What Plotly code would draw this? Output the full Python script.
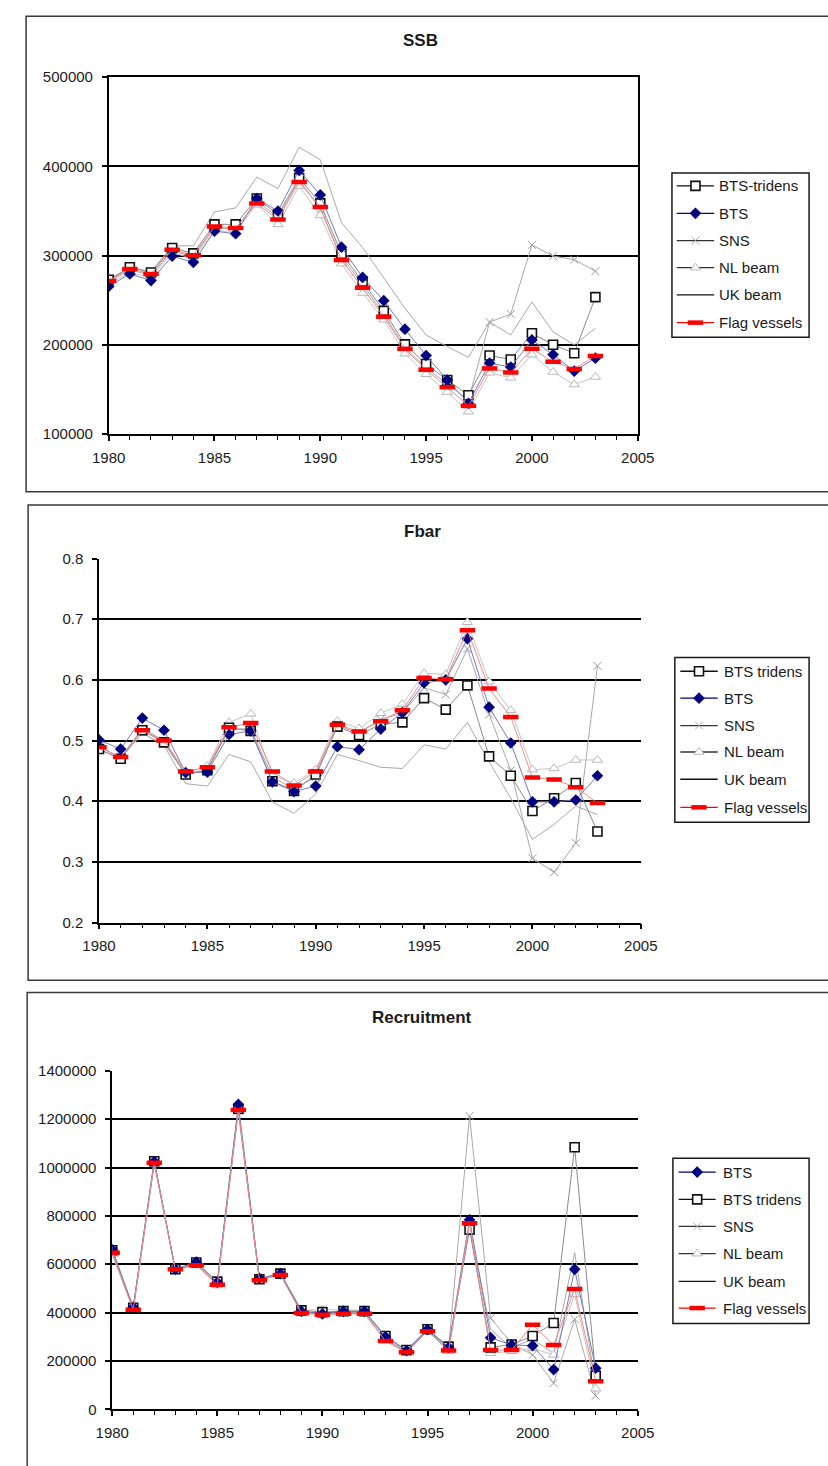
import plotly.graph_objects as go

W, H = 828, 1466
FONT = "Liberation Sans, Arial, sans-serif"

years = list(range(1980, 2004))

# ---------------- SSB ----------------
ssb_tridens = [273000, 287000, 281000, 308500, 302500, 335000, 335000, 364000, 346000, 387000, 358500, 302000,
               271000, 238000, 200500, 178500, 160500, 143500, 188000, 183500, 213000, 200000, 190500, 253500]
ssb_bts = [265500, 279500, 272000, 299500, 292500, 327500, 324500, 364000, 350000, 395500, 368000, 309500,
           275500, 249500, 217500, 188000, 160500, 134500, 179500, 175000, 205500, 189000, 170500, 185000]
ssb_sns = [270000, 284000, 278000, 305000, 299000, 331000, 330000, 361000, 343000, 385000, 352000, 298000,
           268000, 234000, 197000, 174000, 156000, 138000, 225500, 234500, 312000, 299500, 295500, 282500]
ssb_nl = [268000, 281000, 275500, 303000, 297000, 328000, 327000, 357000, 335000, 378000, 345000, 291000,
          258000, 228000, 190000, 167000, 147000, 125000, 168500, 163000, 189000, 169500, 155500, 164000]
ssb_uk = [272000, 287000, 282000, 311000, 311000, 349000, 353500, 388000, 375000, 421500, 407500, 337000,
          309000, 275000, 241000, 211000, 198000, 186000, 225500, 211000, 248000, 214500, 200000, 218500]
ssb_flag = [271500, 285000, 279500, 306500, 300500, 332500, 331000, 358500, 340500, 382500, 354500, 295000,
            264000, 231500, 195500, 172000, 152500, 131500, 173500, 169000, 195500, 181000, 173000, 187500]

# ---------------- Fbar ----------------
f_tridens = [0.486, 0.470, 0.517, 0.497, 0.444, 0.451, 0.521, 0.516, 0.433, 0.417, 0.444, 0.523,
             0.509, 0.527, 0.530, 0.570, 0.551, 0.591, 0.474, 0.442, 0.384, 0.405, 0.430, 0.350]
f_bts = [0.501, 0.486, 0.537, 0.517, 0.447, 0.448, 0.510, 0.516, 0.432, 0.416, 0.425, 0.490,
         0.485, 0.519, 0.546, 0.595, 0.600, 0.668, 0.555, 0.496, 0.399, 0.399, 0.402, 0.442]
f_sns = [0.490, 0.472, 0.520, 0.500, 0.445, 0.452, 0.518, 0.520, 0.440, 0.420, 0.440, 0.525,
         0.512, 0.535, 0.545, 0.587, 0.576, 0.651, 0.543, 0.451, 0.306, 0.283, 0.331, 0.623]
f_nl = [0.485, 0.470, 0.512, 0.495, 0.445, 0.458, 0.530, 0.544, 0.442, 0.430, 0.452, 0.532,
        0.520, 0.545, 0.560, 0.611, 0.609, 0.695, 0.597, 0.550, 0.452, 0.454, 0.468, 0.468]
f_uk = [0.490, 0.472, 0.512, 0.492, 0.429, 0.425, 0.477, 0.465, 0.399, 0.380, 0.412, 0.477,
        0.467, 0.456, 0.454, 0.493, 0.486, 0.530, 0.465, 0.405, 0.337, 0.362, 0.392, 0.378]
f_flag = [0.489, 0.473, 0.517, 0.500, 0.449, 0.456, 0.522, 0.529, 0.449, 0.426, 0.449, 0.526,
          0.515, 0.532, 0.550, 0.603, 0.601, 0.682, 0.586, 0.539, 0.439, 0.436, 0.423, 0.397]

# ---------------- Recruitment ----------------
r_bts = [661000, 422000, 1025000, 579000, 609000, 525000, 1261000, 542000, 561000, 405000, 395000, 405000,
         405000, 300000, 243000, 330000, 256000, 784000, 296000, 266000, 263000, 164000, 579000, 170000]
r_tridens = [658000, 420000, 1026000, 579000, 607000, 528000, 1243000, 538000, 561000, 409000, 402000, 406000,
             406000, 303000, 245000, 331000, 259000, 743000, 256000, 268000, 303000, 357000, 1084000, 139000]
r_sns = [650000, 418000, 1030000, 575000, 603000, 520000, 1245000, 540000, 560000, 402000, 396000, 400000,
         400000, 290000, 240000, 327000, 250000, 1213000, 377000, 272000, 225000, 108000, 372000, 56000]
r_nl = [640000, 410000, 1015000, 572000, 598000, 512000, 1230000, 530000, 565000, 410000, 412000, 412000,
        410000, 285000, 232000, 325000, 240000, 760000, 232000, 240000, 252000, 225000, 475000, 85000]
r_uk = [650000, 415000, 1018000, 577000, 600000, 518000, 1240000, 536000, 558000, 400000, 393000, 398000,
        398000, 290000, 238000, 325000, 248000, 755000, 330000, 255000, 290000, 232000, 648000, 100000]
r_flag = [647000, 412000, 1020000, 579000, 596000, 515000, 1238000, 534000, 555000, 398000, 391000, 395000,
          395000, 282000, 236000, 323000, 243000, 770000, 245000, 245000, 350000, 266000, 498000, 116000]

# series styles (line colour, marker spec, legend line colour)
STY = {
    "tridens": dict(line="#8a8a8a", leg="#111111",
                    marker=dict(symbol="square", size=9, color="white", line=dict(color="#111111", width=1.6))),
    "bts": dict(line="#7878b8", leg="#000080",
                marker=dict(symbol="diamond", size=9, color="#000080", line=dict(color="#000080", width=0))),
    "sns": dict(line="#a8a8a8", leg="#333333",
                marker=dict(symbol="x-thin-open", size=8, color="#9a9a9a", line=dict(color="#9a9a9a", width=1))),
    "nl": dict(line="#c4c4c4", leg="#333333",
               marker=dict(symbol="triangle-up", size=9, color="white", line=dict(color="#b8b8b8", width=1))),
    "uk": dict(line="#a8a8a8", leg="#111111", marker=None),
    "flag": dict(line="#f08a8a", leg="#ff0000",
                 marker=dict(symbol="line-ew", size=11, color="#ff0000", line=dict(color="#ff0000", width=4.5))),
}

def px(xp):
    return xp / W

def py(yp):
    return 1 - yp / H

fig = go.Figure()

panels = [
    ("", [("uk", ssb_uk), ("sns", ssb_sns), ("nl", ssb_nl), ("tridens", ssb_tridens), ("bts", ssb_bts), ("flag", ssb_flag)],
     (95.6, 647.3), (69.0, 430.0), (100000, 500000), "d", 100000, True),
    ("2", [("uk", f_uk), ("sns", f_sns), ("nl", f_nl), ("tridens", f_tridens), ("bts", f_bts), ("flag", f_flag)],
     (85.5, 650.5), (556.0, 924.3), (0.2, 0.8), ".1f", 0.1, False),
    ("3", [("uk", r_uk), ("sns", r_sns), ("nl", r_nl), ("tridens", r_tridens), ("bts", r_bts), ("flag", r_flag)],
     (99.3, 647.3), (1074.3, 1416.7), (0, 1400000), "d", 200000, False),
]

axis_font = dict(family=FONT, size=15, color="#1a1a1a")

overlay_axes = {}
for i, (suf, series, xr, yr, yrange, tf, dt, border) in enumerate(panels):
    for key, vals in series:
        s = STY[key]
        tr = dict(x=years, y=vals, xaxis="x" + suf, yaxis="y" + suf, showlegend=False,
                  line=dict(color=s["line"], width=1), hoverinfo="skip")
        if s["marker"] is None:
            tr["mode"] = "lines"
        else:
            tr["mode"] = "lines+markers"
            tr["marker"] = s["marker"]
        fig.add_trace(go.Scatter(**tr))
    xa = dict(domain=[px(xr[0]), px(xr[1])], range=[1980, 2005], anchor="y" + suf,
              tickmode="linear", tick0=1980, dtick=5, ticks="outside", ticklen=5, tickwidth=1.5,
              tickcolor="#000", showline=True, linecolor="#000", linewidth=1.5, showgrid=False,
              zeroline=False, tickfont=axis_font, mirror=border, ticklabelstandoff=4,
              minor=dict(dtick=1, ticks="outside", ticklen=4, tickcolor="#000", tickwidth=1, showgrid=False))
    ya = dict(domain=[py(yr[1]), py(yr[0])], range=list(yrange), anchor="x" + suf,
              tickmode="linear", tick0=yrange[0], dtick=dt, tickformat=tf, ticks="outside", ticklen=5,
              tickwidth=1.5, tickcolor="#000", showline=True, linecolor="#000", linewidth=1.5,
              showgrid=True, gridcolor="#000", gridwidth=1.5, zeroline=False, tickfont=axis_font,
              mirror=border, ticklabelstandoff=6)
    fig.layout["xaxis" + suf] = xa
    fig.layout["yaxis" + suf] = ya
    # inside half of the cross-style major x ticks
    n = 5 + i
    fig.layout["xaxis%d" % n] = dict(domain=[px(xr[0]), px(xr[1])], range=[1980, 2005],
                                      anchor="y" + suf, overlaying="x" + suf,
                                      tickmode="linear", tick0=1980, dtick=5, ticks="inside",
                                      ticklen=5, tickwidth=1.5, tickcolor="#000",
                                      showticklabels=False, showgrid=False, zeroline=False,
                                      showline=False, side="bottom")

# pixel overlay axis for legend symbols
fig.layout["xaxis4"] = dict(domain=[0, 1], range=[0, W], visible=False, fixedrange=True)
fig.layout["yaxis4"] = dict(domain=[0, 1], range=[H, 0], visible=False, fixedrange=True)

shapes = []
annotations = []

# panel frames
frames = [(9.5, 7.3, 488.3), (11.6, 501.7, 982.7), (10.6, 995.0, 1500.0)]
for x0, y0, y1 in frames:
    shapes.append(dict(type="rect", xref="paper", yref="paper", x0=px(x0), x1=px(W + 20),
                       y0=py(y1), y1=py(y0), line=dict(color="#3a3a3a", width=1.5)))

# titles
titles = [("SSB", 421, 32.3), ("Fbar", 423, 528.3), ("Recruitment", 422, 1020.0)]
for t, x, y in titles:
    annotations.append(dict(text="<b>" + t + "</b>", x=px(x), y=py(y), xref="paper", yref="paper",
                            xanchor="center", yanchor="middle", showarrow=False,
                            font=dict(family=FONT, size=17, color="#1a1a1a")))

# legends
names_ssb = [("tridens", "BTS-tridens"), ("bts", "BTS"), ("sns", "SNS"), ("nl", "NL beam"),
             ("uk", "UK beam"), ("flag", "Flag vessels")]
names_f = [("tridens", "BTS tridens"), ("bts", "BTS"), ("sns", "SNS"), ("nl", "NL beam"),
           ("uk", "UK beam"), ("flag", "Flag vessels")]
names_r = [("bts", "BTS"), ("tridens", "BTS tridens"), ("sns", "SNS"), ("nl", "NL beam"),
           ("uk", "UK beam"), ("flag", "Flag vessels")]

legends = [
    (names_ssb, (683, 826, 166, 332), (688, 727, 730), [179, 206.7, 234.3, 261.7, 289.3, 317.3]),
    (names_f, (686, 826, 656, 822.7), (691.7, 730.7, 735), [670, 697.3, 725, 751.7, 779.3, 807.7]),
    (names_r, (684, 826, 1162.7, 1330), (690, 728.6, 734), [1176.7, 1204.3, 1231.7, 1259.3, 1287.3, 1314.3]),
]

for names, box, (lx0, lx1, tx), rows in legends:
    shapes.append(dict(type="rect", xref="paper", yref="paper", x0=px(box[0]), x1=px(box[1]),
                       y0=py(box[3]), y1=py(box[2]), line=dict(color="#1a1a1a", width=1.5),
                       fillcolor="white", layer="below"))
    for (key, label), ry in zip(names, rows):
        s = STY[key]
        fig.add_trace(go.Scatter(x=[lx0, lx1], y=[ry, ry], mode="lines", xaxis="x4", yaxis="y4",
                                 line=dict(color=s["leg"], width=1.3), showlegend=False, hoverinfo="skip"))
        if s["marker"] is not None:
            m = dict(s["marker"])
            if key == "sns":
                m = dict(symbol="x-thin-open", size=8, color="#b0b0b0", line=dict(color="#b0b0b0", width=1))
            fig.add_trace(go.Scatter(x=[(lx0 + lx1) / 2], y=[ry], mode="markers", xaxis="x4", yaxis="y4",
                                     marker=m, showlegend=False, hoverinfo="skip"))
        annotations.append(dict(text=label, x=px(tx), y=py(ry), xref="paper", yref="paper",
                                xanchor="left", yanchor="middle", showarrow=False,
                                font=dict(family=FONT, size=15, color="#1a1a1a")))

fig.update_layout(width=W, height=H, margin=dict(l=0, r=0, t=0, b=0, pad=0),
                  paper_bgcolor="white", plot_bgcolor="rgba(0,0,0,0)",
                  shapes=shapes, annotations=annotations, showlegend=False,
                  font=dict(family=FONT, color="#1a1a1a"))

fig.write_html("out.html")
